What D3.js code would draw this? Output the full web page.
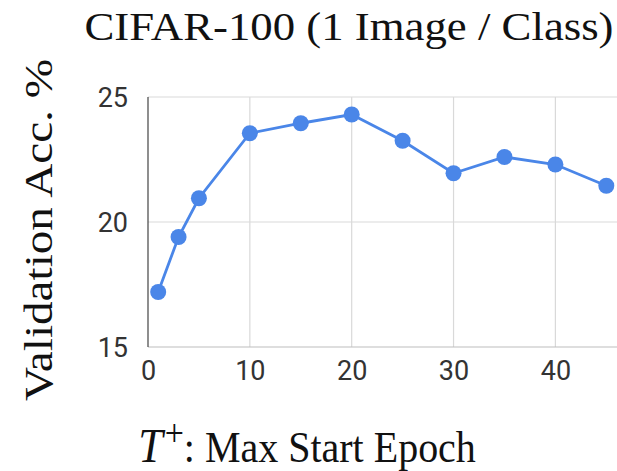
<!DOCTYPE html>
<html>
<head>
<meta charset="utf-8">
<script src="https://cdn.jsdelivr.net/npm/d3@7"></script>
<style>
  html, body { margin: 0; padding: 0; background: #fff; }
  svg { display: block; }
  .serif { font-family: "Liberation Serif", "Times New Roman", serif; fill: #111; }
  .tick text { font-family: Roboto, "Noto Sans", sans-serif; font-size: 27px; fill: #333; }
</style>
</head>
<body>
<svg id="chart" width="617" height="471"></svg>
<script>
// values
const epochs = [1, 3, 5, 10, 15, 20, 25, 30, 35, 40, 45];
const accuracy = [17.2, 19.4, 20.95, 23.55, 23.95, 24.3, 23.25, 21.95, 22.6, 22.3, 21.45];
const xTicks = [0, 10, 20, 30, 40];
const yTicks = [15, 20, 25];

const svg = d3.select('#chart');
const plotLeft = 148, plotTop = 97, plotBottom = 347, plotRight = 617;

const x = d3.scaleLinear().domain([0, 46.05]).range([plotLeft, plotRight]);
const y = d3.scaleLinear().domain([15, 25]).range([plotBottom, plotTop]);

// grid
svg.append('g')
    .selectAll('line')
    .data(xTicks.filter(d => d > 0))
    .enter().append('line')
    .attr('x1', d => x(d)).attr('x2', d => x(d))
    .attr('y1', plotTop).attr('y2', plotBottom)
    .attr('stroke', '#d9d9d9').attr('stroke-width', 1.2);

svg.append('g')
    .selectAll('line')
    .data(yTicks)
    .enter().append('line')
    .attr('x1', plotLeft).attr('x2', plotRight)
    .attr('y1', d => y(d)).attr('y2', d => y(d))
    .attr('stroke', d => d === 15 ? '#bdbdbd' : '#d9d9d9').attr('stroke-width', 1.2);

// axes (labels only, lines drawn separately)
const xAxis = svg.append('g')
    .attr('transform', `translate(0,${plotBottom})`)
    .call(d3.axisBottom(x).tickValues(xTicks).tickSize(0).tickPadding(14));
xAxis.select('.domain').remove();

const yAxis = svg.append('g')
    .attr('transform', `translate(${plotLeft},0)`)
    .call(d3.axisLeft(y).tickValues(yTicks).tickSize(0).tickPadding(20));
yAxis.select('.domain').remove();
yAxis.selectAll('text').attr('dy', '0.36em');

svg.append('line')
    .attr('x1', plotLeft).attr('x2', plotLeft)
    .attr('y1', plotTop).attr('y2', plotBottom)
    .attr('stroke', '#444').attr('stroke-width', 1.2);

// series
const line = d3.line()
    .x((d, i) => x(epochs[i]))
    .y(d => y(d));

svg.append('path')
    .datum(accuracy)
    .attr('d', line)
    .attr('fill', 'none')
    .attr('stroke', '#4a86e8')
    .attr('stroke-width', 2.8);

svg.append('g')
    .selectAll('circle')
    .data(accuracy)
    .enter().append('circle')
    .attr('cx', (d, i) => x(epochs[i]))
    .attr('cy', d => y(d))
    .attr('r', 8)
    .attr('fill', '#4a86e8');

// titles (the source picture is a little stretched, hence the scale)
svg.append('text')
    .attr('class', 'serif')
    .attr('transform', 'translate(349,40) scale(1.12,1)')
    .attr('text-anchor', 'middle')
    .attr('font-size', 40)
    .text('CIFAR-100 (1 Image / Class)');

svg.append('text')
    .attr('class', 'serif')
    .attr('transform', 'translate(52,230) rotate(-90) scale(1.18,1)')
    .attr('text-anchor', 'middle')
    .attr('font-size', 40)
    .text('Validation Acc. %');

const xl = svg.append('text')
    .attr('class', 'serif')
    .attr('transform', 'translate(307,462) scale(1,1.1)')
    .attr('text-anchor', 'middle')
    .attr('font-size', 40);
xl.append('tspan').attr('font-style', 'italic').attr('font-size', 44).text('T');
xl.append('tspan').attr('dx', 2).attr('dy', -15).attr('font-size', 34).text('+');
xl.append('tspan').attr('dy', 15).text(': Max Start Epoch');
</script>
</body>
</html>
